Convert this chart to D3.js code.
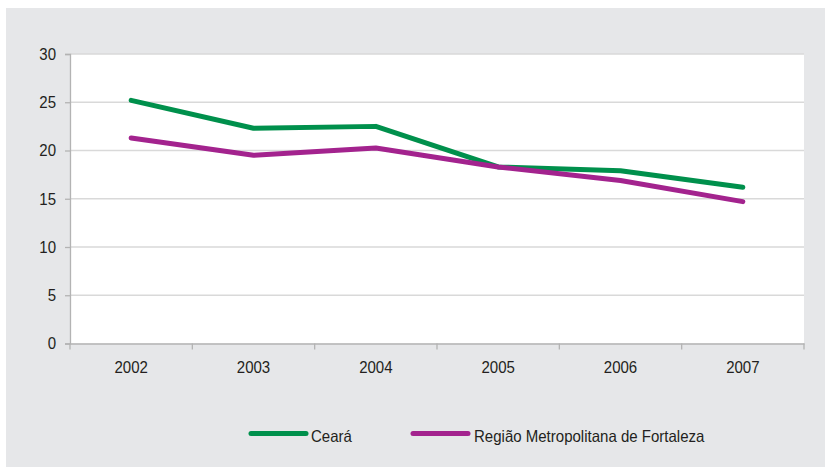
<!DOCTYPE html>
<html><head><meta charset="utf-8">
<script src="https://cdn.jsdelivr.net/npm/d3@7"></script>
<style>body{margin:0;background:#fff}svg{display:block}text{font-family:"Liberation Sans",Arial,sans-serif;fill:#231f20}</style>
</head><body>
<svg id="c" width="825" height="467"></svg>
<script>
const years = ["2002","2003","2004","2005","2006","2007"];
const ceara = [25.2, 22.3, 22.5, 18.3, 17.9, 16.2];
const rmf = [21.3, 19.5, 20.25, 18.3, 16.9, 14.7];
const yTicks = [0,5,10,15,20,25,30];
const seriesNames = ["Ceará", "Região Metropolitana de Fortaleza"];
const colors = ["#00904c", "#a3238e"];

const svg = d3.select("#c");
svg.append("rect").attr("x",6).attr("y",8).attr("width",819).attr("height",459).attr("fill","#e6e7e9");
const L=70,R=804,T=54,B=343.5;
svg.append("rect").attr("x",L).attr("y",T).attr("width",R-L).attr("height",B-T).attr("fill","#fff");
const x = d3.scaleBand().domain(years).range([L,R]);
const y = d3.scaleLinear().domain([0,30]).range([B,T]);

svg.append("g").selectAll("line").data(yTicks.filter(d=>d>0)).join("line")
  .attr("x1",L).attr("x2",R).attr("y1",d=>y(d)).attr("y2",d=>y(d))
  .attr("stroke","#d9d9d9").attr("stroke-width",1.3);

const ya = svg.append("g").attr("transform",`translate(${L},0)`)
  .call(d3.axisLeft(y).tickValues(yTicks).tickSize(5).tickPadding(9));
ya.select(".domain").attr("stroke","#b3b3b3").attr("stroke-width",1.3);
ya.selectAll(".tick line").attr("stroke","#b3b3b3").attr("stroke-width",1.3);
ya.selectAll("text").attr("font-size","16.5px").attr("fill","#231f20").attr("font-family","Liberation Sans, Arial, sans-serif");

const xa = svg.append("g").attr("transform",`translate(0,${B})`)
  .call(d3.axisBottom(x).tickSize(0).tickPadding(18));
xa.select(".domain").attr("stroke","#b3b3b3").attr("stroke-width",1.3);
xa.selectAll("text").attr("font-size","16.5px").attr("fill","#231f20").attr("font-family","Liberation Sans, Arial, sans-serif");
const bounds = years.map(d=>x(d)).concat([R]);
svg.append("g").selectAll("line").data(bounds).join("line")
  .attr("x1",d=>d).attr("x2",d=>d).attr("y1",B).attr("y2",B+6)
  .attr("stroke","#b3b3b3").attr("stroke-width",1.3);

const line = d3.line().x((d,i)=>x(years[i])+x.bandwidth()/2).y(d=>y(d));
[ceara, rmf].forEach((s,i)=>{
  svg.append("path").datum(s).attr("d",line).attr("fill","none")
    .attr("stroke",colors[i]).attr("stroke-width",5).attr("stroke-linecap","round").attr("stroke-linejoin","round");
});

const leg = [{x:251,t:311},{x:413,t:474}];
seriesNames.forEach((n,i)=>{
  svg.append("line").attr("x1",leg[i].x).attr("x2",leg[i].x+55).attr("y1",433.5).attr("y2",433.5)
    .attr("stroke",colors[i]).attr("stroke-width",5).attr("stroke-linecap","round");
  svg.append("text").attr("x",leg[i].t).attr("y",442).attr("font-size","16.5px").text(n);
});
// condensed look of the original face
svg.selectAll("text").each(function(){
  const w = this.getComputedTextLength();
  d3.select(this).attr("textLength", w*0.91).attr("lengthAdjust","spacingAndGlyphs");
});
</script>
</body></html>
